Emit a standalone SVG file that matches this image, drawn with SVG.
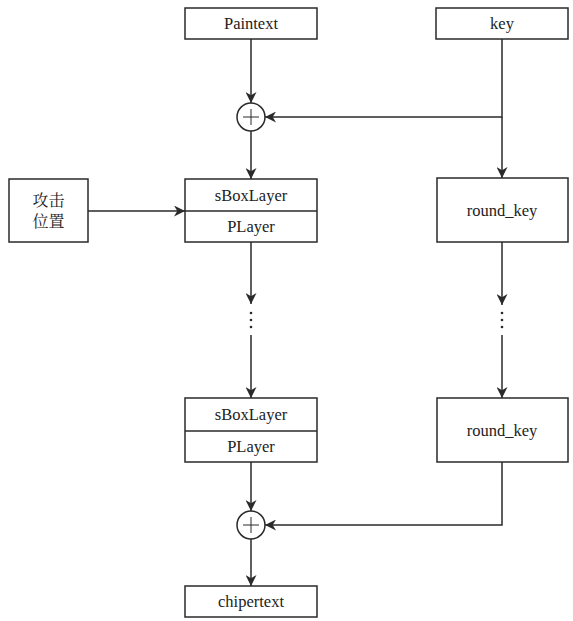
<svg xmlns="http://www.w3.org/2000/svg" width="573" height="621" viewBox="0 0 573 621">
<defs>
<marker id="ah" markerUnits="userSpaceOnUse" markerWidth="11" markerHeight="11" refX="10" refY="5" orient="auto" viewBox="0 0 10 10">
<path d="M0,0 L10,5 L0,10 L3,5 z" fill="#2a2a2a"/>
</marker>
<style>
.box{fill:#fff;stroke:#2a2a2a;stroke-width:1.5}
.ln{fill:none;stroke:#2a2a2a;stroke-width:1.5}
.pl{fill:none;stroke:#2a2a2a;stroke-width:1}
.ar{fill:none;stroke:#2a2a2a;stroke-width:1.5;marker-end:url(#ah)}
.t{font-family:'Liberation Serif','DejaVu Serif',serif;font-size:16.5px;fill:#222;text-anchor:middle}
.c{font-family:'Noto Serif CJK SC','Noto Sans CJK SC',serif;font-size:16px;fill:#222;text-anchor:middle}
.dot{fill:#2a2a2a}
</style>
</defs>
<rect width="573" height="621" fill="#fff"/>
<g id="connectors">
<line class="ar" x1="251" y1="39" x2="251" y2="103"/>
<polyline class="ar" points="502,39 502,117 265,117"/>
<line class="ar" x1="502" y1="117" x2="502" y2="178"/>
<line class="ar" x1="251" y1="131" x2="251" y2="179"/>
<line class="ar" x1="88" y1="211" x2="185" y2="211"/>
<line class="ar" x1="251" y1="242" x2="251" y2="304"/>
<line class="ar" x1="251" y1="335" x2="251" y2="398"/>
<line class="ar" x1="502" y1="242" x2="502" y2="305"/>
<line class="ar" x1="502" y1="335" x2="502" y2="398"/>
<line class="ar" x1="251" y1="462" x2="251" y2="511"/>
<polyline class="ar" points="502,462 502,525 265,525"/>
<line class="ar" x1="251" y1="539" x2="251" y2="586"/>
<circle class="dot" cx="251" cy="313" r="1.3"/>
<circle class="dot" cx="251" cy="320" r="1.3"/>
<circle class="dot" cx="251" cy="327" r="1.3"/>
<circle class="dot" cx="502" cy="313" r="1.3"/>
<circle class="dot" cx="502" cy="320" r="1.3"/>
<circle class="dot" cx="502" cy="327" r="1.3"/>
</g>
<g id="paintext">
<rect class="box" x="185" y="8" width="132" height="31"/>
<text class="t" x="251" y="29" font-family="Liberation Serif, serif">Paintext</text>
</g>
<g id="key">
<rect class="box" x="436" y="8" width="132" height="31"/>
<text class="t" x="502" y="29" font-family="Liberation Serif, serif">key</text>
</g>
<g id="xor1">
<circle class="box" cx="251" cy="117" r="14"/>
<line class="pl" x1="243" y1="117" x2="259" y2="117"/>
<line class="pl" x1="251" y1="109" x2="251" y2="125"/>
</g>
<g id="attack">
<rect class="box" x="9" y="179" width="79" height="63"/>
<text class="c" x="48.5" y="206">攻击</text>
<text class="c" x="48.5" y="227">位置</text>
</g>
<g id="layer1">
<rect class="box" x="185" y="179" width="132" height="63"/>
<line class="ln" x1="185" y1="211" x2="317" y2="211"/>
<text class="t" x="251" y="201" font-family="Liberation Serif, serif">sBoxLayer</text>
<text class="t" x="251" y="232" font-family="Liberation Serif, serif">PLayer</text>
</g>
<g id="roundkey1">
<rect class="box" x="437" y="178" width="131" height="64"/>
<text class="t" x="502" y="216" font-family="Liberation Serif, serif">round_key</text>
</g>
<g id="layer2">
<rect class="box" x="185" y="398" width="132" height="64"/>
<line class="ln" x1="185" y1="431" x2="317" y2="431"/>
<text class="t" x="251" y="420" font-family="Liberation Serif, serif">sBoxLayer</text>
<text class="t" x="251" y="452" font-family="Liberation Serif, serif">PLayer</text>
</g>
<g id="roundkey2">
<rect class="box" x="437" y="398" width="131" height="64"/>
<text class="t" x="502" y="436" font-family="Liberation Serif, serif">round_key</text>
</g>
<g id="xor2">
<circle class="box" cx="251" cy="525" r="14"/>
<line class="pl" x1="243" y1="525" x2="259" y2="525"/>
<line class="pl" x1="251" y1="517" x2="251" y2="533"/>
</g>
<g id="chipertext">
<rect class="box" x="185" y="586" width="132" height="31"/>
<text class="t" x="251" y="607" font-family="Liberation Serif, serif">chipertext</text>
</g>
</svg>
